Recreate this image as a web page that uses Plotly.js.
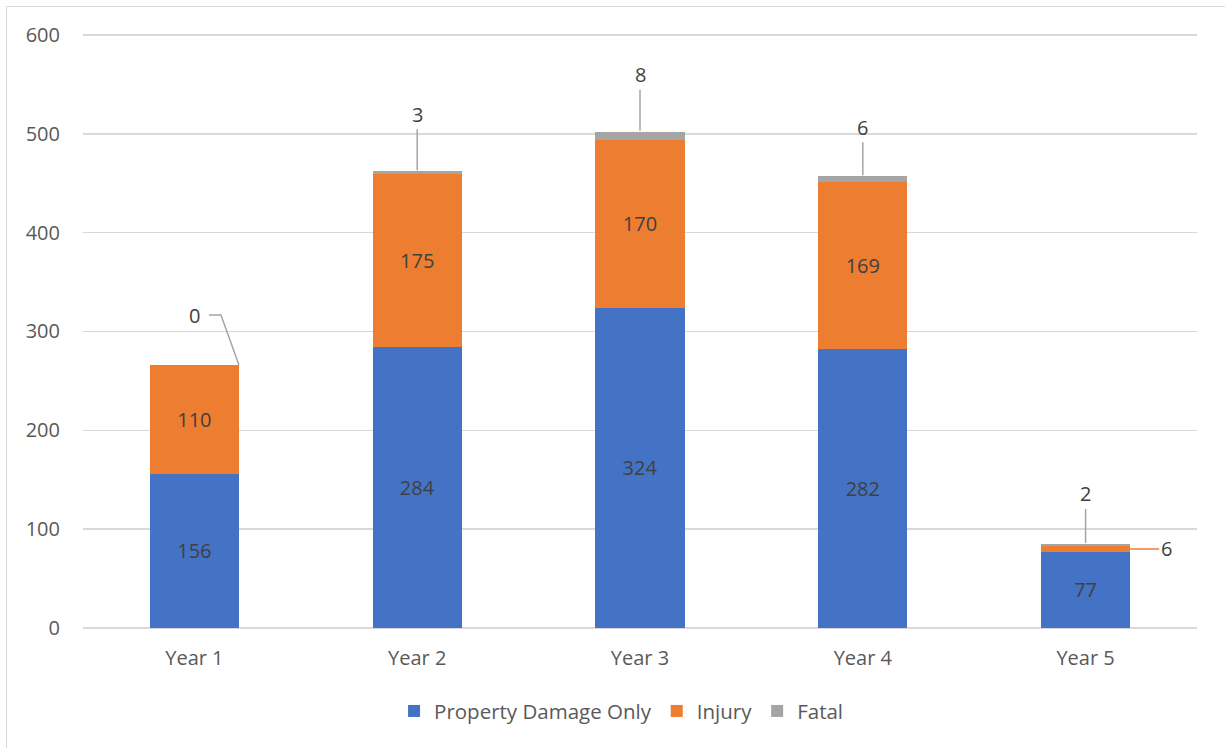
<!DOCTYPE html>
<html>
<head>
<meta charset="utf-8">
<script src="https://cdn.plot.ly/plotly-3.0.1.min.js"></script>
<style>
html,body{margin:0;padding:0;background:#fff;}
#wrap{position:relative;width:1225px;height:748px;overflow:hidden;}
#chart{position:absolute;left:0;top:0;width:1225px;height:748px;}
#frame{position:absolute;left:6px;top:6px;width:1300px;height:800px;border-left:1.5px solid #d9d9d9;border-top:1.5px solid #d9d9d9;pointer-events:none;}
</style>
</head>
<body>
<div id="wrap"><div id="chart"></div><div id="frame"></div></div>
<script>
const categories = ["Year 1", "Year 2", "Year 3", "Year 4", "Year 5"];
const propertyDamage = [156, 284, 324, 282, 77];
const injury = [110, 175, 170, 169, 6];
const fatal = [0, 3, 8, 6, 2];
const yTicks = [0, 100, 200, 300, 400, 500, 600];

// label callout offsets (pixels above the bar top) - style only
const fatalLabelLift = [50, 57, 57, 49, 50];

const FONT = "Open Sans, Liberation Sans, sans-serif";
const txtColor = "#404040";
const axColor = "#595959";
const cBlue = "#4472c4", cOrange = "#ed7d31", cGray = "#a5a5a5";

const injuryText = injury.map(v => v >= 20 ? String(v) : "");

const traces = [
  {type: "bar", name: "Property Damage Only", x: categories, y: propertyDamage,
   marker: {color: cBlue}, text: propertyDamage.map(String), textposition: "inside",
   insidetextanchor: "middle", textfont: {color: txtColor, size: 20, family: FONT},
   hoverinfo: "skip"},
  {type: "bar", name: "Injury", x: categories, y: injury,
   marker: {color: cOrange}, text: injuryText, textposition: "inside",
   insidetextanchor: "middle", textfont: {color: txtColor, size: 20, family: FONT},
   hoverinfo: "skip"},
  {type: "bar", name: "Fatal", x: categories, y: fatal,
   marker: {color: cGray}, textposition: "none", hoverinfo: "skip"}
];

const totals = categories.map((c, i) => propertyDamage[i] + injury[i] + fatal[i]);
const annotations = [];
const shapes = [];
categories.forEach((c, i) => {
  if (fatal[i] === 0) {
    annotations.push({x: i + 0.2, y: totals[i], xref: "x", yref: "y", text: String(fatal[i]),
      showarrow: false, xshift: -44, yshift: 50,
      font: {color: txtColor, size: 20, family: FONT}});
    shapes.push({type: "path", xref: "x", yref: "y", xsizemode: "pixel", ysizemode: "pixel",
      xanchor: i + 0.2, yanchor: totals[i], path: "M -30,50 L -18,50 L 0,0",
      line: {color: cGray, width: 1.5}});
  } else {
    annotations.push({x: i, y: totals[i], xref: "x", yref: "y", text: String(fatal[i]),
      showarrow: true, arrowhead: 0, arrowwidth: 1.5, arrowcolor: cGray, ax: 0, ay: -fatalLabelLift[i],
      font: {color: txtColor, size: 20, family: FONT}, standoff: 1});
  }
  if (injury[i] < 20) {
    annotations.push({x: i + 0.2, y: propertyDamage[i] + injury[i] / 2, xref: "x", yref: "y",
      text: String(injury[i]), showarrow: true, arrowhead: 0, arrowwidth: 1.5, arrowcolor: cOrange,
      ax: 36, ay: 0, font: {color: txtColor, size: 20, family: FONT}, standoff: 0});
  }
});

const layout = {
  width: 1225, height: 748,
  margin: {l: 83, r: 28, t: 30, b: 120, pad: 0},
  paper_bgcolor: "#ffffff", plot_bgcolor: "#ffffff",
  barmode: "stack", bargap: 0.6,
  font: {family: FONT, color: axColor, size: 20},
  showlegend: true,
  legend: {orientation: "h", x: 0.483, xanchor: "center", y: -0.139, yanchor: "middle",
           font: {size: 20.5, color: axColor, family: FONT}, traceorder: "normal",
           itemwidth: 30, tracegroupgap: 0},
  xaxis: {type: "category", showgrid: false, zeroline: false, showline: false,
          ticks: "", tickfont: {size: 20, color: axColor}, ticklabelstandoff: 16, fixedrange: true},
  yaxis: {range: [0, 605], tickvals: yTicks, ticktext: yTicks.map(String),
          showgrid: true, gridcolor: "#d9d9d9", gridwidth: 1.5, zeroline: true, zerolinecolor: "#d9d9d9",
          zerolinewidth: 1.5, showline: false, ticks: "", tickfont: {size: 20, color: axColor},
          ticklabelstandoff: 22, fixedrange: true},
  annotations: annotations,
  shapes: shapes
};

Plotly.newPlot("chart", traces, layout, {displayModeBar: false, staticPlot: true});
</script>
</body>
</html>
